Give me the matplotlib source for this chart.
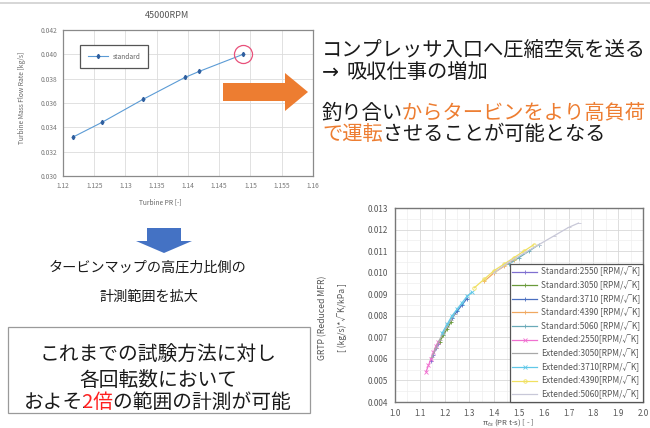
import matplotlib
matplotlib.use('Agg')
import matplotlib.pyplot as plt
import matplotlib.patches as mpatches
from matplotlib.ticker import MultipleLocator, FuncFormatter
from matplotlib.transforms import Bbox

plt.rcParams['font.family'] = ['Noto Sans CJK JP', 'DejaVu Sans']

# --- chart 1: 45000RPM standard test ---
pr_45000 = [1.1216, 1.1262, 1.1328, 1.1395, 1.1418, 1.1488]
mfr_45000 = [0.0332, 0.0344, 0.0363, 0.0381, 0.0386, 0.0400]

# --- chart 2: reduced mass flow vs pressure ratio ---
series_labels = [
    'Standard:2550 [RPM/√K]', 'Standard:3050 [RPM/√K]', 'Standard:3710 [RPM/√K]',
    'Standard:4390 [RPM/√K]', 'Standard:5060 [RPM/√K]',
    'Extended:2550[RPM/√K]', 'Extended:3050[RPM/√K]', 'Extended:3710[RPM/√K]',
    'Extended:4390[RPM/√K]', 'Extended:5060[RPM/√K]',
]
series_x = [
    [1.145, 1.155, 1.165, 1.175],
    [1.18, 1.195, 1.21, 1.225],
    [1.23, 1.25, 1.27, 1.29],
    [1.36, 1.40, 1.44, 1.48],
    [1.46, 1.50, 1.54, 1.58],
    [1.125, 1.135, 1.145, 1.155, 1.165, 1.175],
    [1.15, 1.165, 1.18, 1.195, 1.21, 1.225, 1.24],
    [1.19, 1.21, 1.23, 1.25, 1.27, 1.29, 1.31],
    [1.32, 1.36, 1.40, 1.44, 1.48, 1.52, 1.56],
    [1.40, 1.46, 1.52, 1.58, 1.64, 1.70, 1.74],
]
series_y = [
    [0.0059, 0.0062, 0.0065, 0.0067],
    [0.0068, 0.0071, 0.0074, 0.0077],
    [0.0079, 0.0082, 0.0085, 0.0088],
    [0.0096, 0.0100, 0.0103, 0.0106],
    [0.0104, 0.0107, 0.0110, 0.0113],
    [0.0054, 0.0057, 0.0060, 0.0063, 0.0066, 0.0068],
    [0.0061, 0.0065, 0.0069, 0.0072, 0.0075, 0.0078, 0.0081],
    [0.0072, 0.0076, 0.0080, 0.0083, 0.0086, 0.0089, 0.0091],
    [0.0093, 0.0097, 0.0101, 0.0104, 0.0107, 0.0110, 0.0113],
    [0.0100, 0.0105, 0.0109, 0.0113, 0.0117, 0.0121, 0.0123],
]
series_colors = ['#7f6fd0', '#6a9a3a', '#4a6fc0', '#f0a860', '#6aaab8',
                 '#f070d0', '#a8a8a8', '#60c8e8', '#f0e060', '#c8c8d8']
series_markers = ['+', '+', '+', '+', '+', 'x', '_', 'x', 'o', '_']

ORANGE = '#ED7D31'
BLUE = '#4472C4'
TXT = '#1a1a1a'

fig = plt.figure(figsize=(6.5, 4.28), dpi=100)

# chart 1
ax1 = fig.add_axes([0.0969, 0.5888, 0.3846, 0.341])
ax1.plot(pr_45000, mfr_45000, color='#5b9bd5', lw=0.8, marker='d', ms=2.2,
         mfc='#2f5f9f', mec='#2f5f9f', label='standard')
ax1.plot(pr_45000[-1], mfr_45000[-1], 'o', ms=13, mfc='none', mec='#e8507a', mew=0.9)
ax1.set_xlim(1.12, 1.16)
ax1.set_ylim(0.030, 0.042)
ax1.xaxis.set_major_locator(MultipleLocator(0.005))
ax1.yaxis.set_major_locator(MultipleLocator(0.002))
ax1.xaxis.set_major_formatter(FuncFormatter(lambda v, p: '%g' % round(v, 3)))
ax1.yaxis.set_major_formatter(FuncFormatter(lambda v, p: '%.3f' % v))
ax1.grid(color='#dcdcdc', lw=0.6)
ax1.set_axisbelow(True)
ax1.tick_params(length=0, labelsize=4.8, labelcolor='#777777', pad=4)
for s in ax1.spines.values():
    s.set_color('#8a8a8a')
    s.set_linewidth(0.9)
leg1 = ax1.legend(loc='upper left', bbox_to_anchor=(0.056, 0.918), fontsize=4.8,
                  handlelength=3, borderpad=1.1, fancybox=False, framealpha=1)
leg1.get_frame().set_edgecolor('#555555')
leg1.get_frame().set_linewidth(0.9)
for t in leg1.get_texts():
    t.set_color('#666666')

# chart 2
ax2 = fig.add_axes([0.6077, 0.0607, 0.3815, 0.4533])
for lab, xs, ys, c, m in zip(series_labels, series_x, series_y, series_colors, series_markers):
    ax2.plot(xs, ys, color=c, lw=0.9, marker=m, ms=2.5, mew=0.6, mfc='none', label=lab)
ax2.set_xlim(1.0, 2.0)
ax2.set_ylim(0.004, 0.013)
ax2.xaxis.set_major_locator(MultipleLocator(0.1))
ax2.yaxis.set_major_locator(MultipleLocator(0.001))
ax2.xaxis.set_minor_locator(MultipleLocator(0.05))
ax2.yaxis.set_minor_locator(MultipleLocator(0.0005))
ax2.xaxis.set_major_formatter(FuncFormatter(lambda v, p: '%.1f' % v))
ax2.yaxis.set_major_formatter(FuncFormatter(lambda v, p: '%.3f' % v))
ax2.grid(which='major', color='#d8d8d8', lw=0.6)
ax2.grid(which='minor', color='#eeeeee', lw=0.5)
ax2.set_axisbelow(True)
ax2.tick_params(which='both', length=0, labelsize=5.8, labelcolor='#555555', pad=5)
for s in ax2.spines.values():
    s.set_color('#777777')
    s.set_linewidth(1.0)
leg2 = ax2.legend(loc='lower right', bbox_to_anchor=(1, 0), borderaxespad=0, fontsize=6.0,
                  handlelength=3.0, labelspacing=0.48, fancybox=False, framealpha=1,
                  borderpad=0.35, handletextpad=0.4)
leg2.get_frame().set_edgecolor('#555555')
leg2.get_frame().set_linewidth(0.9)
for t in leg2.get_texts():
    t.set_color('#555555')

# overlay in pixel coordinates for slide text and arrows
ax_bg = fig.add_axes([0, 0, 1, 1], zorder=5)
ax_bg.set_xlim(0, 650)
ax_bg.set_ylim(428, 0)
ax_bg.axis('off')
ax_bg.patch.set_alpha(0)

ax_bg.plot([0, 650], [3, 3], color='#d0d0d0', lw=1.2)

ax_bg.text(167, 15, '45000RPM', fontsize=6.5, color='#555555', ha='center', va='center')
ax_bg.text(160, 202, 'Turbine PR [-]', fontsize=4.8, color='#666666', ha='center', va='center')
ax_bg.text(22, 98, 'Turbine Mass Flow Rate [kg/s]', fontsize=4.8, color='#666666',
           ha='center', va='center', rotation=90)
ax_bg.text(323, 318, 'GRTP (Reduced MFR)', fontsize=6.2, color='#555555',
           ha='center', va='center', rotation=90)
ax_bg.text(342, 318, '[ (kg/s)*√K/kPa ]', fontsize=6.2, color='#555555',
           ha='center', va='center', rotation=90)
ax_bg.text(508, 422, 'π$_{ts}$ (PR t-s) [ - ]', fontsize=5.6, color='#555555',
           ha='center', va='center')

ax_bg.add_patch(mpatches.FancyArrow(223, 92, 85, 0, width=18, head_width=38, head_length=23,
                                    length_includes_head=True, color=ORANGE, lw=0))
ax_bg.add_patch(mpatches.FancyArrow(164, 228, 0, 25, width=34, head_width=56, head_length=12,
                                    length_includes_head=True, color=BLUE, lw=0))


def multicolor(ax, x, y, parts, size, ha='left'):
    # draw the whole line once per colour, each copy clipped to its own piece
    r = fig.canvas.get_renderer()
    full = ''.join(s for s, c in parts)
    probe = ax.text(x, y, full, fontsize=size, ha=ha, va='center')
    left = probe.get_window_extent(r).x0
    probe.remove()
    edges = [0]
    pre = ''
    for s, c in parts[:-1]:
        pre += s
        p = ax.text(0, 0, pre, fontsize=size)
        edges.append(left + p.get_window_extent(r).width + 1)
        p.remove()
    edges.append(fig.bbox.width)
    for i, (s, c) in enumerate(parts):
        t = ax.text(x, y, full, fontsize=size, ha=ha, va='center', color=c, clip_on=True)
        t.set_clip_box(Bbox.from_extents(edges[i], 0, edges[i + 1], fig.bbox.height))


ax_bg.text(322, 50, 'コンプレッサ入口へ圧縮空気を送る', fontsize=14.6, color=TXT, va='center')
ax_bg.text(322, 72, '→', fontsize=14.6, color=TXT, va='center', family='DejaVu Sans')
ax_bg.text(347, 72, '吸収仕事の増加', fontsize=14.6, color=TXT, va='center')
multicolor(ax_bg, 322, 113, [('釣り合い', TXT), ('からタービンをより高負荷', ORANGE)], 14.6)
multicolor(ax_bg, 322, 135, [('で運転', ORANGE), ('させることが可能となる', TXT)], 14.6)

ax_bg.text(148, 268, 'タービンマップの高圧力比側の', fontsize=10.2, color=TXT, ha='center', va='center')
ax_bg.text(149, 297, '計測範囲を拡大', fontsize=10.2, color=TXT, ha='center', va='center')

ax_bg.add_patch(mpatches.Rectangle((8, 327), 302, 86, fill=False, ec='#9a9a9a', lw=0.9))
ax_bg.text(158, 355, 'これまでの試験方法に対し', fontsize=14.2, color=TXT, ha='center', va='center')
ax_bg.text(158, 380, '各回転数において', fontsize=14.2, color=TXT, ha='center', va='center')
multicolor(ax_bg, 158, 402, [('およそ', TXT), ('2倍', '#ff2020'), ('の範囲の計測が可能', TXT)],
           14.2, ha='center')

fig.savefig('out.png', dpi=100)
